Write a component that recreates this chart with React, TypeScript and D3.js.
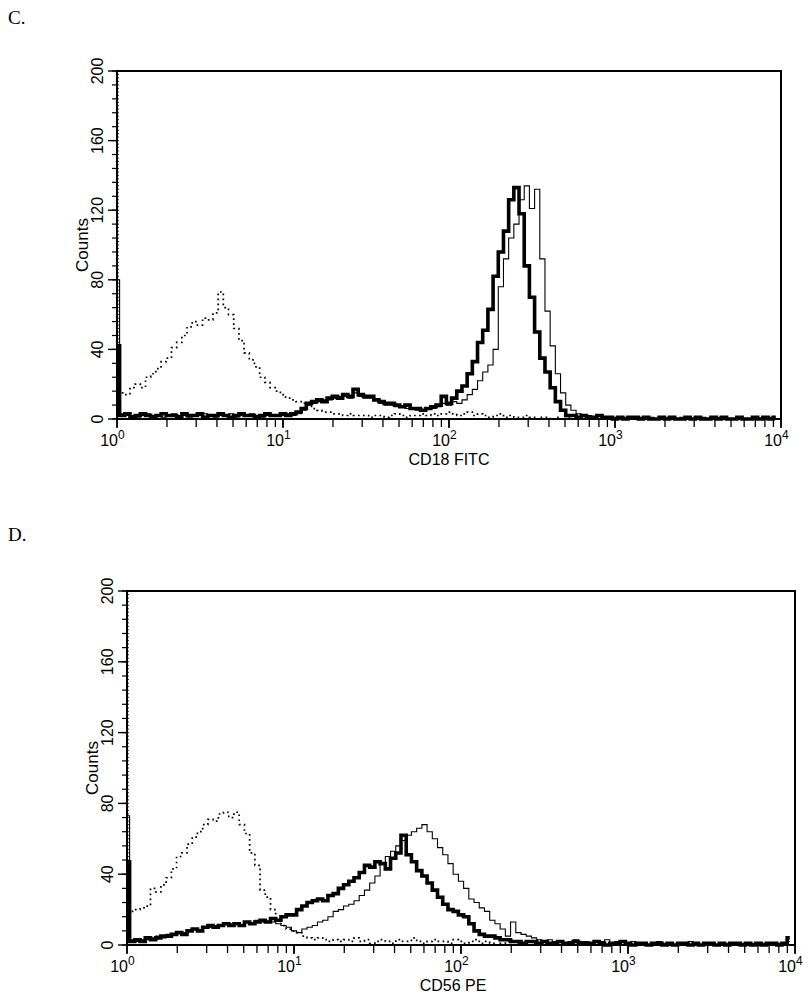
import React from "react";
import * as d3 from "d3";

// 128 channels per histogram, 32 per decade, channel i sits at 10^(i/32)

const cd18Control = [
  12, 15, 14, 18, 20, 18, 24, 26, 29, 33, 35, 41, 44, 48, 53, 56,
  54, 58, 57, 61, 73, 64, 60, 52, 45, 38, 34, 30, 24, 21, 18, 16,
  14, 12, 11, 10, 9, 8, 6, 5, 4, 4, 3, 3, 2, 3, 2, 2,
  2, 1, 2, 2, 1, 2, 3, 2, 1, 2, 2, 3, 2, 3, 2, 3,
  4, 3, 2, 3, 4, 2, 3, 2, 1, 2, 3, 1, 2, 1, 1, 2,
  1, 0, 1, 1, 0, 1, 0, 1, 0, 0, 1, 0, 0, 0, 0, 0,
  0, 0, 0, 0, 0, 0, 0, 0, 0, 0, 0, 0, 0, 0, 0, 0,
  0, 0, 0, 0, 0, 0, 0, 0, 0, 0, 0, 0, 0, 0, 0, 0,
];

const cd18Thick = [
  42, 2, 3, 1, 2, 3, 2, 1, 2, 3, 2, 2, 1, 3, 2, 2,
  3, 1, 2, 2, 3, 2, 1, 2, 3, 2, 2, 1, 2, 3, 2, 2,
  3, 2, 3, 4, 6, 9, 10, 11, 10, 12, 13, 12, 14, 13, 17, 14,
  13, 13, 11, 10, 9, 9, 8, 7, 8, 6, 6, 5, 6, 7, 8, 13,
  9, 12, 16, 19, 26, 33, 44, 51, 63, 82, 96, 108, 126, 133, 118, 88,
  70, 50, 35, 27, 18, 10, 5, 2, 2, 1, 2, 1, 1, 2, 1, 1,
  0, 1, 0, 1, 1, 0, 1, 0, 0, 1, 0, 1, 0, 0, 1, 0,
  1, 0, 0, 1, 0, 1, 0, 0, 1, 0, 0, 1, 0, 1, 0, 1,
];

const cd18Thin = [
  80, 3, 2, 2, 1, 2, 3, 2, 2, 1, 2, 3, 2, 2, 1, 2,
  2, 3, 2, 1, 2, 2, 3, 1, 2, 2, 3, 2, 1, 2, 2, 2,
  2, 3, 2, 3, 5, 8, 9, 10, 11, 11, 12, 13, 13, 12, 15, 13,
  12, 12, 11, 9, 8, 8, 7, 7, 6, 6, 5, 5, 6, 6, 7, 9,
  8, 10, 9, 11, 14, 17, 22, 27, 31, 40, 76, 92, 104, 112, 126, 134,
  121, 132, 92, 62, 42, 26, 15, 8, 5, 3, 2, 2, 1, 2, 1, 1,
  1, 0, 1, 0, 0, 1, 0, 1, 0, 0, 1, 0, 0, 1, 0, 0,
  0, 1, 0, 0, 1, 0, 0, 0, 1, 0, 0, 1, 0, 0, 1, 0,
];

const cd56Control = [
  16, 19, 20, 21, 22, 32, 30, 34, 38, 43, 50, 52, 57, 61, 64, 68,
  71, 70, 74, 75, 72, 75, 68, 63, 52, 45, 31, 27, 20, 15, 11, 9,
  8, 7, 5, 4, 3, 4, 3, 2, 3, 2, 3, 2, 4, 2, 3, 1,
  2, 3, 2, 1, 3, 2, 2, 4, 2, 1, 2, 3, 2, 2, 1, 3,
  2, 1, 2, 3, 1, 2, 1, 0, 1, 2, 0, 1, 1, 0, 1, 0,
  0, 1, 0, 0, 1, 0, 0, 0, 1, 0, 0, 0, 0, 0, 0, 0,
  0, 0, 0, 0, 0, 0, 0, 0, 0, 0, 0, 0, 0, 0, 0, 0,
  0, 0, 0, 0, 0, 0, 0, 0, 0, 0, 0, 0, 0, 0, 0, 0,
];

const cd56Thick = [
  47, 2, 3, 2, 4, 3, 4, 5, 5, 6, 7, 6, 8, 9, 8, 10,
  11, 10, 11, 12, 11, 12, 11, 13, 12, 13, 14, 13, 15, 14, 16, 17,
  17, 20, 22, 24, 25, 26, 25, 28, 29, 32, 34, 36, 38, 41, 45, 44,
  47, 46, 43, 49, 52, 62, 51, 47, 42, 39, 35, 31, 27, 23, 20, 19,
  17, 16, 12, 8, 6, 5, 5, 4, 3, 3, 2, 2, 1, 2, 2, 1,
  2, 1, 1, 2, 1, 1, 2, 1, 1, 1, 2, 1, 0, 1, 1, 2,
  1, 0, 1, 1, 0, 1, 1, 0, 1, 0, 1, 1, 0, 1, 0, 1,
  1, 0, 1, 0, 1, 1, 0, 1, 0, 1, 0, 1, 1, 0, 1, 4,
];

const cd56Thin = [
  73, 3, 2, 3, 3, 4, 5, 4, 6, 6, 7, 7, 8, 9, 8, 10,
  10, 11, 11, 12, 12, 12, 11, 13, 12, 14, 13, 13, 13, 12, 11, 10,
  8, 7, 9, 10, 11, 13, 14, 16, 19, 20, 22, 23, 25, 28, 31, 35,
  39, 46, 50, 53, 56, 59, 62, 64, 66, 68, 64, 60, 55, 51, 46, 40,
  36, 32, 26, 24, 21, 19, 14, 12, 9, 5, 13, 7, 6, 5, 4, 3,
  2, 3, 2, 2, 1, 2, 3, 2, 2, 1, 2, 2, 3, 1, 2, 2,
  1, 2, 1, 1, 0, 1, 2, 1, 1, 0, 1, 1, 2, 1, 0, 1,
  1, 0, 1, 1, 0, 1, 1, 0, 1, 0, 1, 1, 0, 1, 1, 2,
];

const decadeExponents = [0, 1, 2, 3, 4];
const yMajorTicks = [0, 40, 80, 120, 160, 200];

const channelsPerDecade = 32;
const sansFont = "'Liberation Sans Narrow', 'Liberation Sans', Arial, sans-serif";

function Histogram({ box, letter, letterY, xTitle, titleShift, control, thick, thin }) {
  const x = d3.scaleLog().domain([1, 10000]).range([box.left, box.right]);
  const y = d3.scaleLinear().domain([0, 200]).range([box.bottom, box.top]);

  const line = d3
    .line<number>()
    .x((d, i) => x(Math.pow(10, i / channelsPerDecade)))
    .y((d) => y(d))
    .curve(d3.curveStep);

  const minorX = x.ticks();
  const minorY = d3.range(0, 201, 8);
  const innerY = d3.range(0, 201, 2);
  const midX = (box.left + box.right) / 2;
  const midY = (box.top + box.bottom) / 2;

  return (
    <g>
      <text x={8} y={letterY} fontFamily="'Liberation Serif', 'Times New Roman', serif" fontSize={19}>
        {letter}
      </text>

      {/* inner hairline ticks on the count axis */}
      {innerY.map((v) => (
        <line key={"in" + v} x1={box.left} x2={box.left + 2} y1={y(v)} y2={y(v)} stroke="#000" strokeWidth={0.8} />
      ))}
      {minorY.map((v) => (
        <line key={"my" + v} x1={box.left - 5} x2={box.left} y1={y(v)} y2={y(v)} stroke="#000" strokeWidth={1.2} />
      ))}
      {yMajorTicks.map((v) => (
        <g key={"y" + v}>
          <line x1={box.left - 9} x2={box.left} y1={y(v)} y2={y(v)} stroke="#000" strokeWidth={1.4} />
          <text
            transform={`translate(${box.left - 20},${y(v)}) rotate(-90)`}
            textAnchor="middle"
            dominantBaseline="central"
            fontFamily={sansFont}
            fontSize={16}
          >
            {v}
          </text>
        </g>
      ))}

      {minorX.map((v) => (
        <line key={"mx" + v} x1={x(v)} x2={x(v)} y1={box.bottom} y2={box.bottom + 8} stroke="#000" strokeWidth={1.3} />
      ))}
      {decadeExponents.map((e) => {
        const px = x(Math.pow(10, e));
        return (
          <g key={"x" + e}>
            <line x1={px} x2={px} y1={box.bottom} y2={box.bottom + 9} stroke="#000" strokeWidth={1.6} />
            <text x={px + 1} y={box.bottom + 27} textAnchor="end" fontFamily={sansFont} fontSize={16}>
              10
            </text>
            <text x={px + 1} y={box.bottom + 20} fontFamily={sansFont} fontSize={12}>
              {e}
            </text>
          </g>
        );
      })}

      <text x={midX + titleShift} y={box.bottom + 46} textAnchor="middle" fontFamily={sansFont} fontSize={16}>
        {xTitle}
      </text>
      <text
        transform={`translate(${box.left - 35},${midY}) rotate(-90)`}
        textAnchor="middle"
        dominantBaseline="central"
        fontFamily={sansFont}
        fontSize={17}
      >
        Counts
      </text>

      <path d={line(control) || ""} fill="none" stroke="#000" strokeWidth={1.7} strokeDasharray="1.7 3.3" />
      <path d={line(thin) || ""} fill="none" stroke="#000" strokeWidth={1.1} />
      <path d={line(thick) || ""} fill="none" stroke="#000" strokeWidth={3.6} strokeLinejoin="miter" />

      <rect
        x={box.left}
        y={box.top}
        width={box.right - box.left}
        height={box.bottom - box.top}
        fill="none"
        stroke="#000"
        strokeWidth={2}
      />
    </g>
  );
}

export default function App() {
  return (
    <svg
      width={810}
      height={1005}
      viewBox="0 0 810 1005"
      style={{ position: "absolute", left: 0, top: 0, background: "#fff" }}
    >
      <rect width={810} height={1005} fill="#fff" />
      <Histogram
        box={{ left: 117, right: 781, top: 71, bottom: 419 }}
        letter="C."
        letterY={24}
        xTitle="CD18 FITC"
        titleShift={0}
        control={cd18Control}
        thick={cd18Thick}
        thin={cd18Thin}
      />
      <Histogram
        box={{ left: 127, right: 795, top: 591, bottom: 945 }}
        letter="D."
        letterY={541}
        xTitle="CD56 PE"
        titleShift={-8}
        control={cd56Control}
        thick={cd56Thick}
        thin={cd56Thin}
      />
    </svg>
  );
}
